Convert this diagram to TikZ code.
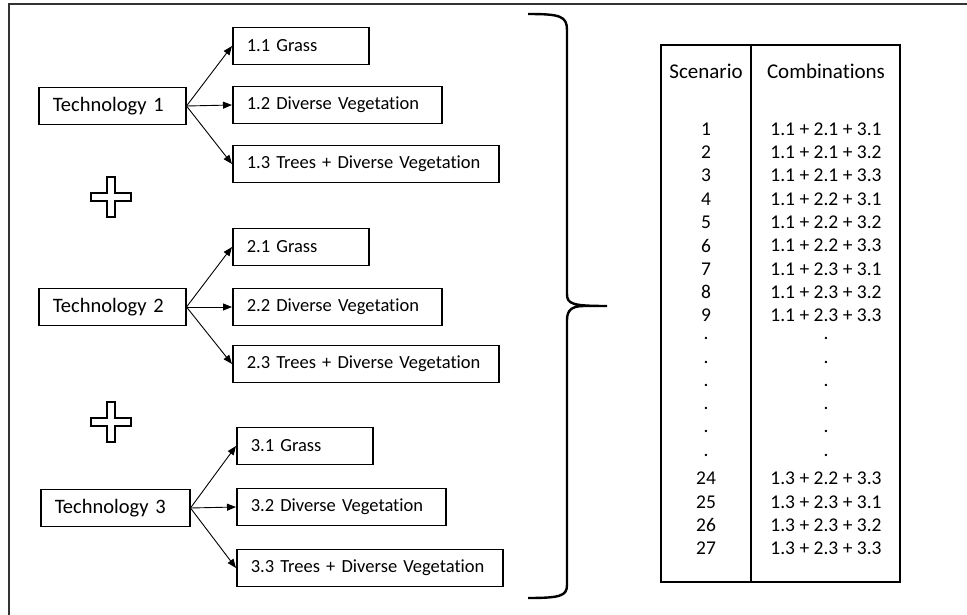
\documentclass[tikz,border=0pt]{standalone}
\usepackage{fontspec}
\setmainfont{Carlito}[Ligatures=NoCommon]
\usetikzlibrary{arrows.meta}
\tikzset{box/.style={draw,line width=1.5pt,anchor=west,minimum height=37pt,inner xsep=14pt,align=left}}
\tikzset{every picture/.append style={x=1pt,y=-1pt}}

\begin{document}
\begin{tikzpicture}
[tech/.style={box,font=\fontsize{20.5}{24}\selectfont},
 leaf/.style={box,font=\fontsize{18.5}{22}\selectfont},
 cell/.style={font=\fontsize{19.5}{22}\selectfont,inner sep=0pt},
 head/.style={font=\fontsize{21}{24}\selectfont,inner sep=0pt},
 link/.style={line width=0.9pt,-{Triangle[length=9pt,width=7pt]}}]
\useasboundingbox (0,0) rectangle (967,615);
% frame
\draw[line width=1.6pt,black!80] (9,615) -- (9,4) -- (967,4);

\node (t1) at (38,106)[tech,text width=119pt]{Technology 1};
\node (g11) at (232,46)[leaf,text width=108pt]{1.1 Grass};
\node (g12) at (232,105)[leaf,text width=181pt]{1.2 Diverse Vegetation};
\node (g13) at (232,164)[leaf,text width=238pt]{1.3 Trees + Diverse Vegetation};

\node (t2) at (38,307)[tech,text width=119pt]{Technology 2};
\node (g21) at (232,247)[leaf,text width=108pt]{2.1 Grass};
\node (g22) at (232,307)[leaf,text width=181pt]{2.2 Diverse Vegetation};
\node (g23) at (232,364)[leaf,text width=238pt]{2.3 Trees + Diverse Vegetation};

\node (t3) at (40,508)[tech,text width=121pt]{Technology 3};
\node (g31) at (236,446)[leaf,text width=108pt]{3.1 Grass};
\node (g32) at (236,507)[leaf,text width=181pt]{3.2 Diverse Vegetation};
\node (g33) at (236,568)[leaf,text width=238pt]{3.3 Trees + Diverse Vegetation};

\foreach \t in {1,2,3}
  \foreach \g in {1,2,3}
    \draw[link] (t\t.east) -- (g\t\g.west);

% plus signs
\foreach \y in {197,422}
  \draw[line width=1.3pt] (107,\y-20) -- (115,\y-20) -- (115,\y-4) -- (131,\y-4)
    -- (131,\y+4) -- (115,\y+4) -- (115,\y+20) -- (107,\y+20) -- (107,\y+4)
    -- (91,\y+4) -- (91,\y-4) -- (107,\y-4) -- cycle;

% brace
\draw[line width=2.4pt] (528,14) .. controls (560,14) and (567,16) .. (567,30)
  -- (567,294) .. controls (567,304) and (572,306) .. (607,306)
  -- (584,306) .. controls (572,306) and (567,310) .. (567,320)
  -- (567,585) .. controls (567,596) and (560,598) .. (528,598);

% table
\draw[line width=1.6pt] (661,45) rectangle (900,582);
\draw[line width=2.6pt] (751,45) -- (751,582);
\node (hs) at (706,71)[head]{Scenario};
\node (hc) at (826,71)[head]{Combinations};
\foreach \s/\c [count=\k from 0] in {1/{1.1 + 2.1 + 3.1},2/{1.1 + 2.1 + 3.2},3/{1.1 + 2.1 + 3.3},
    4/{1.1 + 2.2 + 3.1},5/{1.1 + 2.2 + 3.2},6/{1.1 + 2.2 + 3.3},7/{1.1 + 2.3 + 3.1},
    8/{1.1 + 2.3 + 3.2},9/{1.1 + 2.3 + 3.3},./.,./.,./.,./.,./.,./.,
    24/{1.3 + 2.2 + 3.3},25/{1.3 + 2.3 + 3.1},26/{1.3 + 2.3 + 3.2},27/{1.3 + 2.3 + 3.3}}
{
  \node (s\k) at (706,129+23.3*\k)[cell]{\s};
  \node (c\k) at (826,129+23.3*\k)[cell]{\c};
}
\end{tikzpicture}
\end{document}
